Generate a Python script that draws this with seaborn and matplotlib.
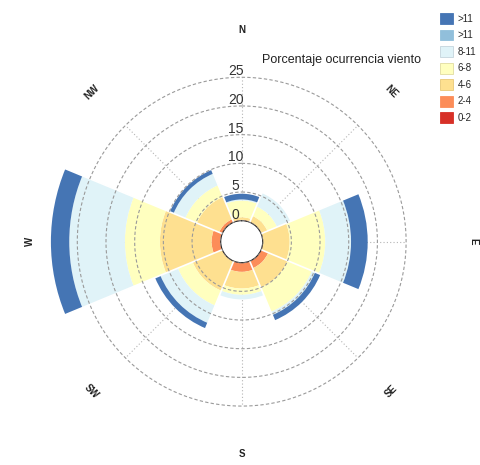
import numpy as np
import matplotlib
matplotlib.use("Agg")
import matplotlib.pyplot as plt
import seaborn as sns
from matplotlib.patches import Patch

# direcciones y rangos de velocidad
directions = ["N", "NE", "E", "SE", "S", "SW", "W", "NW"]
speed_bins = ["0-2", "2-4", "4-6", "6-8", "8-11", ">11", ">11"]

# porcentaje de ocurrencia por direccion
v_0_2 = [0.05, 0.0, 0.0, 0.05, 0.1, 0.0, 0.1, 0.0]
v_2_4 = [0.1, 0.1, 0.1, 1.3, 1.5, 0.1, 1.5, 0.6]
v_4_6 = [0.45, 1.1, 4.6, 3.65, 2.9, 5.5, 9.0, 4.2]
v_6_8 = [2.9, 1.8, 6.2, 4.6, 1.1, 2.8, 6.1, 2.2]
v_8_11 = [0.2, 2.5, 4.5, 0.6, 0.8, 3.3, 9.7, 2.2]
v_11_a = [0.0, 0.0, 0.0, 0.0, 0.0, 0.0, 0.0, 0.0]
v_11_b = [1.0, 0.0, 2.9, 1.0, 0.0, 1.0, 3.2, 0.7]

radial_ticks = [0, 5, 10, 15, 20, 25]
colors = ["#d73027", "#fc8d59", "#fee090", "#ffffbf", "#e0f3f8", "#91bfdb", "#4575b4"]

sns.set_style("white")
plt.rcParams["font.family"] = ["Liberation Sans", "DejaVu Sans"]

fig = plt.figure(figsize=(4.81, 4.65), dpi=100)
ax = fig.add_axes([0.101, 0.065, 0.803, 0.8305], projection="polar")
ax.set_theta_zero_location("N")
ax.set_theta_direction(-1)
ax.set_ylim(0, 30)
ax.set_rorigin(-3.66)

theta = np.deg2rad(np.arange(len(directions)) * 45)
width = np.deg2rad(45)

# barras apiladas
series = [v_0_2, v_2_4, v_4_6, v_6_8, v_8_11, v_11_a, v_11_b]
bottom = np.zeros(len(directions))
for vals, col in zip(series, colors):
    vals = np.array(vals)
    ax.bar(theta, vals, width=width, bottom=bottom, color=col,
           edgecolor="none", linewidth=0, zorder=2)
    bottom += vals

# lineas radiales (por debajo de las barras)
for t in theta:
    ax.plot([t, t], [0, 25], ls=(0, (1, 2)), color="#b5b5b5", lw=0.8, zorder=1)

# separacion blanca entre sectores
for b in theta + width / 2:
    ax.plot([b, b], [0, 30], color="white", lw=1.2, zorder=3)

# circulos de la rejilla
circ = np.linspace(0, 2 * np.pi, 361)
for r in radial_ticks:
    ax.plot(circ, np.full_like(circ, r), ls=(0, (3, 2)), color="#9a9a9a", lw=0.8, zorder=4)
    ax.annotate(str(r), xy=(0, r), xytext=(-4.3, 4.4), textcoords="offset points",
                ha="center", va="center", fontsize=10, color="#333333", zorder=5)

rotations = [0, -45, -90, 45, 0, -45, 90, 45]
label_r = [33.3, 33.3, 36.8, 33.3, 33.3, 33.3, 33.3, 33.3]
for t, d, rot, lr in zip(theta, directions, rotations, label_r):
    ax.text(t, lr, d, rotation=rot, ha="center", va="center",
            fontsize=7, fontweight="bold", color="#222222")

ax.grid(False)
ax.set_xticks([])
ax.set_yticks([])
ax.spines["polar"].set_visible(False)

fig.text(262 / 481, 1 - 60 / 465, "Porcentaje ocurrencia viento",
         ha="left", va="center", fontsize=9, color="#222222")

# leyenda
edge = ["#d73027", "#fc8d59", "#e8c878", "#e0dca0", "#c5d5dc", "#91bfdb", "#4575b4"]
handles = [Patch(facecolor=c, edgecolor=e, linewidth=0.6) for c, e in zip(colors, edge)][::-1]
fig.legend(handles, speed_bins[::-1], loc="upper left",
           bbox_to_anchor=(440 / 481, 1 - 13 / 465), frameon=False, fontsize=7,
           handlelength=1.35, handleheight=1.35, labelspacing=0.58,
           handletextpad=0.5, borderpad=0, borderaxespad=0)

fig.savefig("out.png", dpi=100)
